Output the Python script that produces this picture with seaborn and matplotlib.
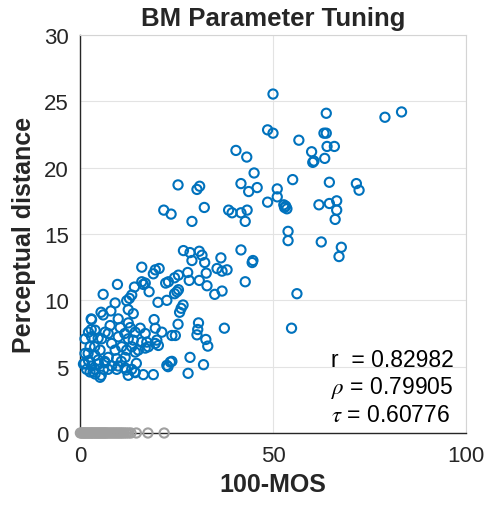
import matplotlib
matplotlib.use("Agg")
from matplotlib import pyplot as plt
import seaborn as sns
import pandas as pd

# blue points: (100-MOS, perceptual distance)
mos_x = [
    50.0, 63.8, 79.0, 83.3, 48.6, 50.0, 63.2, 63.8, 56.7, 40.4, 43.2, 60.0, 64.0, 65.9, 63.4, 60.3, 60.6,
    45.1, 25.4, 30.3, 31.0, 41.7, 43.7, 45.9, 51.1, 51.1, 55.1, 64.6, 71.6, 72.3, 48.6, 52.8, 53.3, 53.6,
    53.0, 61.9, 64.6, 66.5, 66.5, 66.1, 21.7, 23.6, 32.2, 29.0, 38.5, 39.4, 41.7, 43.3, 42.8, 53.9, 53.9,
    62.5, 67.7, 67.1, 41.7, 44.8,
    26.8, 28.5, 30.9, 31.6, 36.5, 29.0, 32.3,
    16.0, 19.5, 20.5, 19.0, 35.5, 36.8, 38.1, 27.9, 25.5, 24.5, 22.9, 22.2, 32.7, 30.9, 28.3,
    44.6, 42.8, 56.2, 54.8,
    16.0, 16.4, 16.9, 14.1, 17.9, 9.7, 6.0, 32.9, 34.9, 36.8, 25.1, 24.5, 25.5,
    13.4, 12.8, 12.1, 22.5, 20.2, 9.1, 26.7, 26.2, 25.8, 12.5, 13.8, 5.45, 8.0, 3.0, 9.9,
    19.2, 19.5, 25.4, 30.7, 37.4, 30.5, 30.3, 32.6, 33.1, 28.5, 32.0, 28.0, 23.8, 22.8,
    7.8, 10.4, 13.0, 15.6, 14.3, 16.9, 21.2, 23.8, 24.7, 19.9, 19.5, 16.0, 12.5, 9.9, 6.5, 3.9, 2.2,
    1.3, 3.0, 5.6, 8.2, 10.8, 13.4, 15.1, 17.7, 20.3, 17.3,
    2.6, 5.2, 9.1, 12.1, 14.3, 16.9, 11.7, 9.5, 7.3, 3.9, 1.3, 2.2, 0.9, 3.0, 4.8, 6.5, 8.2, 9.9, 11.7,
    13.4, 14.3, 16.4, 19.0, 9.5, 7.3, 5.2, 3.9, 2.6, 1.7, 3.9, 6.1, 22.5, 23.4,
    2.9, 6.0, 12.5, 2.9, 4.7, 7.3, 11.6, 13.8, 3.8, 2.1, 1.2, 4.7, 6.4, 12.0, 14.2, 3.4, 5.5, 12.5, 14.6, 10.7,
]
dist_y = [
    25.55, 24.1, 23.8, 24.2, 22.85, 22.6, 22.6, 22.6, 22.07, 21.3, 20.8, 21.2, 21.6, 21.6, 20.7, 20.4, 20.5,
    19.6, 18.7, 18.36, 18.6, 18.8, 18.2, 18.5, 18.4, 17.8, 19.1, 18.9, 18.8, 18.3, 17.4, 17.2, 17.1, 16.9,
    17.0, 17.2, 17.3, 17.5, 16.8, 16.1, 16.8, 16.5, 17.0, 15.95, 16.8, 16.6, 16.6, 16.8, 15.95, 15.2, 14.5,
    14.4, 14.0, 13.3, 13.8, 13.0,
    13.75, 13.6, 13.7, 13.4, 13.2, 13.0, 12.85,
    12.5, 12.3, 12.4, 12.0, 12.4, 12.2, 12.3, 12.1, 11.9, 11.7, 11.4, 11.3, 12.05, 11.5, 11.5,
    12.85, 11.4, 10.5, 7.9,
    11.4, 11.2, 11.3, 11.0, 10.65, 11.2, 10.45, 11.1, 10.45, 10.7, 10.65, 10.5, 10.8,
    10.4, 10.15, 9.97, 10.0, 9.85, 9.8, 9.65, 9.4, 9.1, 9.3, 9.0, 9.1, 9.2, 8.55, 8.6,
    8.55, 7.9, 8.2, 8.3, 7.9, 7.8, 7.4, 7.05, 6.55, 5.7, 5.15, 4.5, 5.4, 5.0,
    8.1, 7.95, 7.95, 7.9, 7.6, 7.5, 7.6, 7.35, 7.35, 7.0, 6.75, 6.85, 7.1, 7.25, 7.6, 7.75, 7.6,
    7.1, 7.25, 7.1, 6.75, 6.5, 6.5, 6.25, 6.5, 6.6, 6.85,
    6.5, 6.25, 6.25, 6.25, 6.1, 6.4, 5.7, 5.6, 5.7, 5.85, 6.0, 5.45, 5.2, 5.05, 5.2, 5.3, 5.05, 5.05, 4.9,
    4.8, 4.55, 4.4, 4.4, 4.8, 4.8, 4.2, 4.45, 4.6, 4.8, 4.8, 4.8, 5.1, 5.35,
    8.6, 8.9, 8.3, 7.8, 7.15, 7.5, 7.5, 7.0, 6.5, 6.0, 5.25, 5.5, 5.4, 4.75, 4.6, 4.6, 4.35, 4.35, 5.25, 5.4,
]

# gray points sitting on the x axis
zero_x = [
    0.1, 0.4, 0.7, 1.0, 1.3, 1.6, 1.9, 2.2, 2.5, 2.8, 3.1, 3.4, 3.7, 4.0, 4.3, 4.6, 4.9, 5.2, 5.5,
    5.8, 6.1, 6.4, 6.7, 7.0, 7.4, 7.8, 8.2, 8.6, 9.0, 9.4, 9.8, 10.2, 10.6, 11.0, 11.5, 12.0, 12.6,
    13.2, 14.6, 17.6, 21.8,
]
zero_y = [0.0] * len(zero_x)

stats_labels = ["r  = 0.82982", r"$\rho$ = 0.79905", r"$\tau$ = 0.60776"]

blue = "#0072BD"
gray = "#A0A0A0"
dark = "#262626"

sns.set_theme(style="whitegrid")
plt.rcParams["font.family"] = ["Liberation Sans", "DejaVu Sans"]
plt.rcParams["mathtext.fontset"] = "stix"

fig = plt.figure(figsize=(4.89, 5.10), dpi=100)
ax = fig.add_axes([80 / 489, 1 - 434 / 510, 386 / 489, 398 / 510])

df = pd.DataFrame({"x": mos_x, "y": dist_y})
dz = pd.DataFrame({"x": zero_x, "y": zero_y})

sns.scatterplot(data=dz, x="x", y="y", ax=ax, marker="o", s=44,
                facecolor="none", edgecolor=gray, linewidth=1.5, clip_on=False, zorder=3)
sns.scatterplot(data=df, x="x", y="y", ax=ax, marker="o", s=44,
                facecolor="none", edgecolor=blue, linewidth=1.5, clip_on=False, zorder=4)

ax.set_xlim(0, 100)
ax.set_ylim(0, 30)
ax.set_xticks([0, 50, 100])
ax.set_yticks([0, 5, 10, 15, 20, 25, 30])
ax.grid(True, color="#e3e3e3", linewidth=0.8)
ax.set_axisbelow(True)

for side in ["left", "bottom"]:
    ax.spines[side].set_color(dark)
    ax.spines[side].set_linewidth(1.0)
for side in ["top", "right"]:
    ax.spines[side].set_color("#d4d4d4")
    ax.spines[side].set_linewidth(0.8)

ax.tick_params(axis="both", direction="in", length=4, width=0.8, color=dark,
               labelcolor=dark, labelsize=16)
ax.tick_params(axis="x", pad=9)
ax.tick_params(axis="y", pad=8)

ax.set_title("BM Parameter Tuning", fontsize=18.5, fontweight="bold", pad=7)
ax.set_xlabel("100-MOS", fontsize=18, fontweight="bold", labelpad=4)
ax.set_ylabel("Perceptual distance", fontsize=18, fontweight="bold", labelpad=6)

for i, lab in enumerate(stats_labels):
    ax.text(65.0, 5.07 - 2.08 * i, lab, fontsize=16.5, color="black", va="baseline", ha="left")

fig.savefig("out.png", dpi=100)
